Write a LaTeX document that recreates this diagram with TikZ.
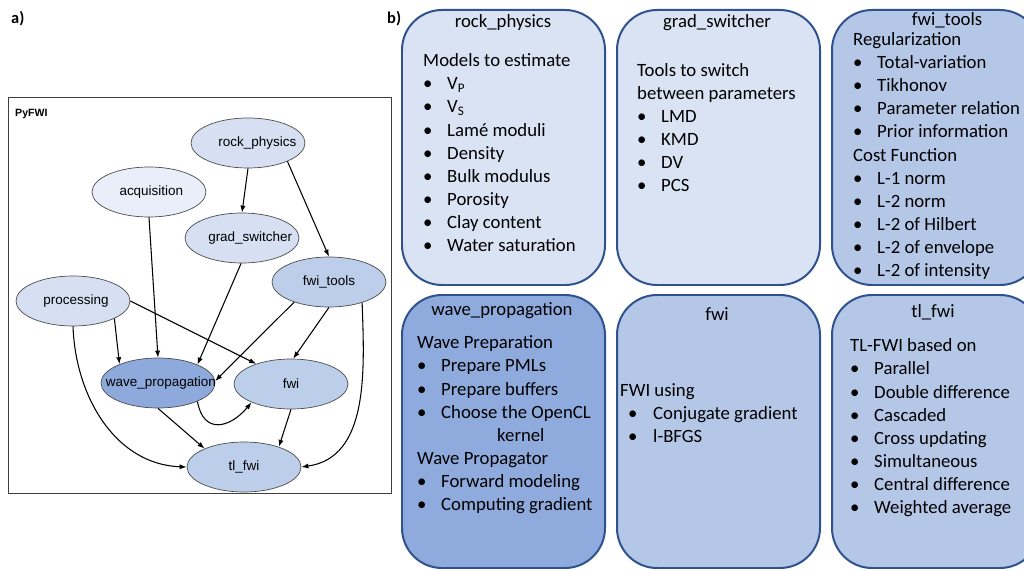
\documentclass[tikz,border=0pt]{standalone}
\usepackage{fontspec}
\setmainfont{Carlito}
\newfontfamily\arialfont{Liberation Sans}
\usetikzlibrary{shapes.geometric,arrows.meta}

\definecolor{borde}{HTML}{2F528F}
\definecolor{claro}{HTML}{DAE3F3}
\definecolor{medio}{HTML}{B4C7E7}
\definecolor{oscuro}{HTML}{8FAADC}
\definecolor{elblanco}{HTML}{E9EEF8}
\definecolor{elclaro}{HTML}{D6E0F2}
\definecolor{elmedio}{HTML}{BDCEEA}
\definecolor{eloscuro}{HTML}{8EA9DB}

\newcommand{\itm}[1]{\makebox[0.72cm][l]{•}#1}
\newcommand{\itmb}[1]{\makebox[0.99cm][l]{\hspace*{0.24cm}•}#1}
% texto de ancho cero, desplazado a la derecha
\newcommand{\etq}[2][0pt]{\makebox[0pt]{\hspace*{#1}#2}}

\begin{document}
\begin{tikzpicture}[x=0.03cm,y=-0.03cm,
   modulo/.style={ellipse,draw=black!70,line width=0.6pt,minimum width=3.42cm,
      minimum height=1.5cm,inner sep=0pt,font=\arialfont\fontsize{11.5}{13}\selectfont},
   flecha/.style={-{Latex[length=6pt,width=4.4pt]},line width=0.9pt},
   panel/.style={draw=borde,line width=1.7pt,rounded corners=1.2cm},
   titulo/.style={anchor=base,inner sep=0pt,font=\fontsize{16}{19.8}\selectfont},
   lista/.style={anchor=base west,align=left,inner sep=0pt,font=\fontsize{16}{19.8}\selectfont},
   letra/.style={anchor=base west,inner sep=0pt,font=\bfseries\fontsize{14}{16}\selectfont}]

   \useasboundingbox (0,0) rectangle (1024,571);
   \clip (0,0) rectangle (1024,571);

   %etiquetas
   \node[letra] (la) at (11,24) {a)};
   \node[letra] (lb) at (387,24) {b)};

   %marco del grafo
   \draw[black!75,line width=0.7pt] (8,97) rectangle (391,493);
   \node[anchor=base west,inner sep=0pt,font=\arialfont\bfseries\fontsize{9}{10}\selectfont] (pyfwi) at (15,117) {PyFWI};

   %modulos
   \node[modulo,fill=elclaro] (rock_physics) at (248,143) {\etq[16pt]{rock\_physics}};
   \node[modulo,fill=elblanco] (acquisition) at (149,192) {\etq[4pt]{acquisition}};
   \node[modulo,fill=elclaro] (grad_switcher) at (242,238) {\etq[14pt]{grad\_switcher}};
   \node[modulo,fill=elmedio] (fwi_tools) at (329,282) {\etq{fwi\_tools}};
   \node[modulo,fill=elclaro] (processing) at (73,301) {\etq[5pt]{processing}};
   \node[modulo,fill=eloscuro] (wave_propagation) at (158,383) {\etq[5pt]{wave\_propagation}};
   \node[modulo,fill=elmedio] (fwi) at (291,384) {\etq{fwi}};
   \node[modulo,fill=elmedio] (tl_fwi) at (244,467) {\etq{tl\_fwi}};

   %dependencias
   \draw[flecha] (rock_physics.south) -- (grad_switcher.north);
   \draw[flecha] (rock_physics.-25) -- (fwi_tools.north);
   \draw[flecha] (acquisition.south) -- (wave_propagation.north);
   \draw[flecha] (grad_switcher.-92) -- (wave_propagation.25);
   \draw[flecha] (fwi_tools.-150) -- (wave_propagation.2);
   \draw[flecha] (fwi_tools.south) -- (fwi.85);
   \draw[flecha] (fwi_tools.-32) to[out=-88,in=8] (tl_fwi.east);
   \draw[flecha] (processing.-23) -- (wave_propagation.154);
   \draw[flecha] (processing.east) -- (fwi.150);
   \draw[flecha] (processing.south) to[out=-88,in=178] (tl_fwi.west);
   \draw[flecha] (wave_propagation.-25) to[out=-80,in=-130,looseness=1.6] (fwi.-155);
   \draw[flecha] (wave_propagation.south) -- (tl_fwi.155);
   \draw[flecha] (fwi.south) -- (tl_fwi.30);

   %paneles fila de arriba
   \draw[panel,fill=claro] (402,10) rectangle (605,285);
   \draw[panel,fill=claro] (617,10) rectangle (820,285);
   \draw[panel,fill=medio] (832,10) rectangle (1040,285);
   %paneles fila de abajo
   \draw[panel,fill=oscuro] (402,295) rectangle (605,568);
   \draw[panel,fill=medio] (617,295) rectangle (820,568);
   \draw[panel,fill=medio] (832,295) rectangle (1040,568);

   %textos (base = ultima linea)
   \node[titulo] (t_rock) at (503,28) {rock\_physics};
   \node[lista] (l_rock) at (423,252) {Models to estimate\\
      \itm{V\textsubscript{P}}\\ \itm{V\textsubscript{S}}\\ \itm{Lamé moduli}\\
      \itm{Density}\\ \itm{Bulk modulus}\\ \itm{Porosity}\\ \itm{Clay content}\\
      \itm{Water saturation}};

   \node[titulo] (t_grad) at (717,28) {grad\_switcher};
   \node[lista] (l_grad) at (637,192) {Tools to switch\\ between parameters\\
      \itm{LMD}\\ \itm{KMD}\\ \itm{DV}\\ \itm{PCS}};

   \node[titulo] (t_tools) at (947,26) {fwi\_tools};
   \node[lista] (l_tools) at (853,277) {Regularization\\
      \itm{Total-variation}\\ \itm{Tikhonov}\\ \itm{Parameter relation}\\
      \itm{Prior information}\\ Cost Function\\ \itm{L-1 norm}\\ \itm{L-2 norm}\\
      \itm{L-2 of Hilbert}\\ \itm{L-2 of envelope}\\ \itm{L-2 of intensity}};

   \node[titulo] (t_wave) at (502,316) {wave\_propagation};
   \node[lista] (l_wave) at (417,511) {Wave Preparation\\
      \itm{Prepare PMLs}\\ \itm{Prepare buffers}\\ \itm{Choose the OpenCL}\\
      \hspace*{2.4cm}kernel\\ Wave Propagator\\ \itm{Forward modeling}\\
      \itm{Computing gradient}};

   \node[titulo] (t_fwi) at (717,321) {fwi};
   \node[lista] (l_fwi) at (620,443) {FWI using\\
      \itmb{Conjugate gradient}\\ \itmb{l-BFGS}};

   \node[titulo] (t_tl) at (933,318) {tl\_fwi};
   \node[lista] (l_tl) at (850,514) {TL-FWI based on\\
      \itm{Parallel}\\ \itm{Double difference}\\ \itm{Cascaded}\\ \itm{Cross updating}\\
      \itm{Simultaneous}\\ \itm{Central difference}\\ \itm{Weighted average}};
\end{tikzpicture}
\end{document}
